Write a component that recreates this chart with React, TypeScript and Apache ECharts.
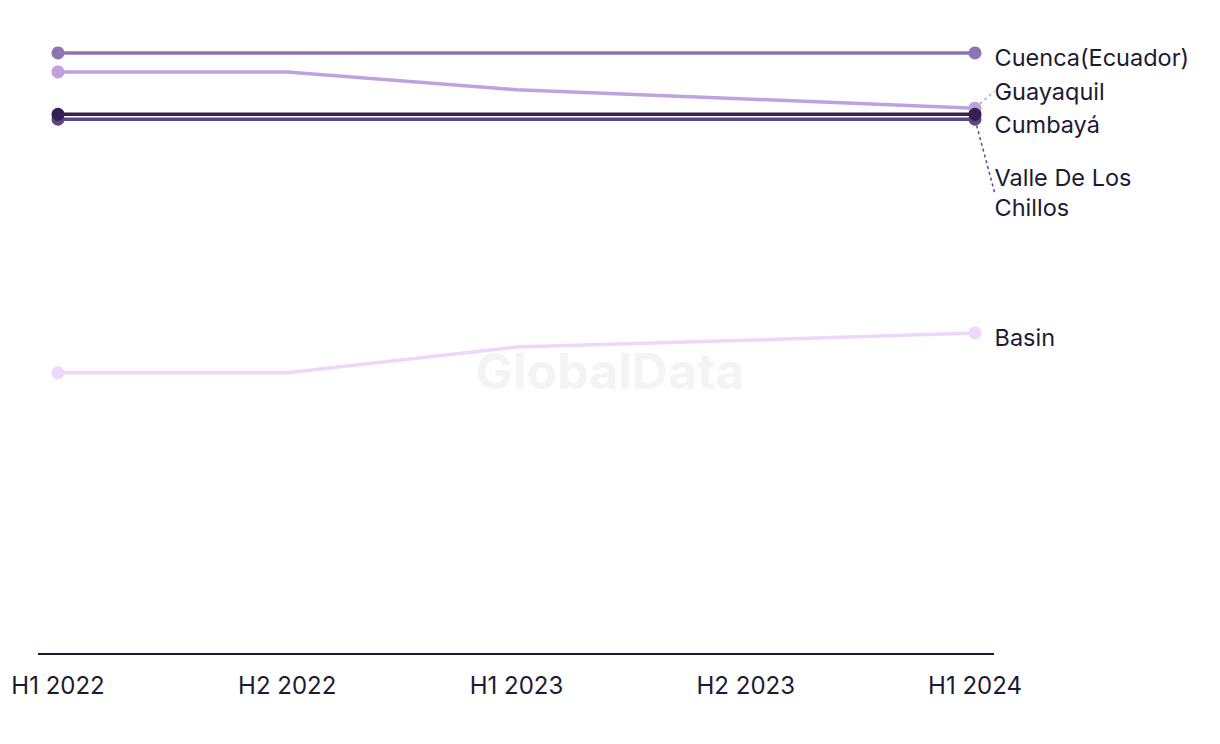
import React, { useEffect, useRef } from "react";
import * as echarts from "echarts";

const categories = ["H1 2022", "H2 2022", "H1 2023", "H2 2023", "H1 2024"];

const cuenca = [97.9, 97.9, 97.9, 97.9, 97.9];
const guayaquil = [94.8, 94.8, 91.9, 90.4, 88.9];
const cumbaya = [87.9, 87.9, 87.9, 87.9, 87.9];
const valle = [87.1, 87.1, 87.1, 87.1, 87.1];
const basin = [45.8, 45.8, 50.0, 51.1, 52.3];

const seriesDefs = [
  { name: "Basin", label: "Basin", data: basin, color: "#efd6fb", dy: 5, line: false },
  { name: "Cuenca(Ecuador)", label: "Cuenca(Ecuador)", data: cuenca, color: "#8e74b4", dy: 5, line: false },
  { name: "Guayaquil", label: "Guayaquil", data: guayaquil, color: "#bea2e0", dy: -17, line: true },
  { name: "Valle De Los Chillos", label: "Valle De Los\nChillos", data: valle, color: "#5b4884", dy: 73, line: true },
  { name: "Cumbayá", label: "Cumbayá", data: cumbaya, color: "#35204f", dy: 10, line: false },
];

const FONT = "Inter, 'Noto Sans', sans-serif";
const TEXT = "#1d1a33";

export default function App() {
  const ref = useRef<HTMLDivElement>(null);
  useEffect(() => {
    if (!ref.current) return;
    const chart = echarts.init(ref.current, undefined, { renderer: "svg" });
    const last = categories.length - 1;
    chart.setOption({
      animation: false,
      backgroundColor: "#ffffff",
      grid: { left: 58, right: 245, top: 40, bottom: 90 },
      graphic: [
        {
          type: "text",
          left: "center",
          top: 346,
          z: 0,
          style: {
            text: "GlobalData",
            fontSize: 50,
            fontWeight: "bold",
            fontFamily: FONT,
            fill: "#f4f4f4",
          },
        },
        {
          type: "line",
          z: 5,
          shape: { x1: 38, y1: 654, x2: 994, y2: 654 },
          style: { stroke: "#1a1a2e", lineWidth: 2 },
        },
      ],
      xAxis: {
        type: "category",
        data: categories,
        boundaryGap: false,
        axisLine: { show: false },
        axisTick: { show: false },
        splitLine: { show: false },
        axisLabel: {
          color: TEXT,
          fontSize: 24,
          fontFamily: FONT,
          margin: 19,
        },
      },
      yAxis: {
        type: "value",
        min: 0,
        max: 100,
        show: false,
        splitLine: { show: false },
      },
      series: seriesDefs.map((s) => ({
        type: "line",
        name: s.name,
        z: 3,
        showAllSymbol: true,
        symbol: "circle",
        symbolSize: (_v: any, p: any) => (p.dataIndex === 0 || p.dataIndex === last ? 13 : 0),
        lineStyle: { color: s.color, width: 3.5 },
        itemStyle: { color: s.color },
        emphasis: { disabled: true },
        labelLayout: { dy: s.dy },
        data: s.data.map((v, i) =>
          i === last
            ? {
                value: v,
                label: {
                  show: true,
                  position: "right",
                  distance: 13,
                  formatter: s.label,
                  color: TEXT,
                  fontSize: 23.5,
                  lineHeight: 30,
                  fontFamily: FONT,
                },
                labelLine: {
                  show: s.line,
                  lineStyle: { color: s.color, width: 1.5, type: [3, 3] },
                },
              }
            : { value: v }
        ),
      })),
    });
    return () => chart.dispose();
  }, []);
  return (
    <div
      ref={ref}
      style={{ position: "absolute", left: 0, top: 0, width: 1220, height: 744 }}
    />
  );
}
